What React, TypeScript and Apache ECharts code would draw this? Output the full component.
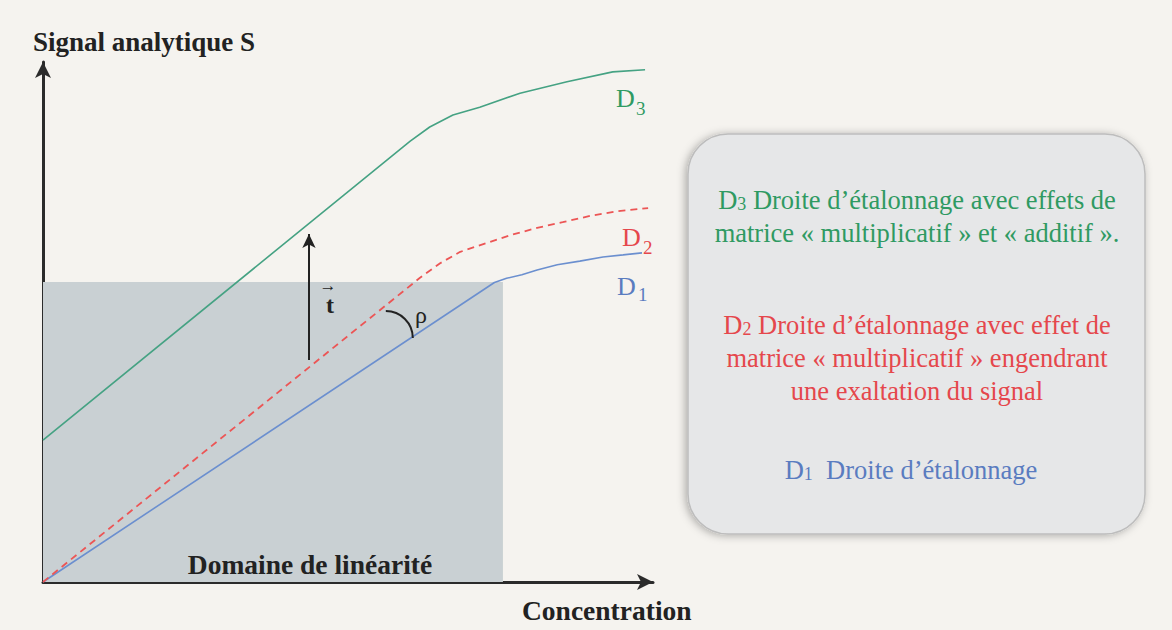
import React, { useEffect, useRef } from "react";
import * as echarts from "echarts";

// Calibration curves (concentration, signal)
const d1Points: number[][] = [
  [0, 0], [7.4, 5.76], [7.6, 5.84], [7.85, 5.91], [8.1, 6.0], [8.43, 6.1],
  [8.8, 6.17], [9.18, 6.25], [9.51, 6.29], [9.82, 6.33],
];
const d2Points: number[][] = [
  [0, 0], [6.18, 5.85], [6.51, 6.13], [6.84, 6.35], [7.33, 6.54], [7.66, 6.67],
  [8.1, 6.81], [8.52, 6.92], [8.97, 7.04], [9.41, 7.13], [9.92, 7.19],
];
const d3Points: number[][] = [
  [0, 2.73], [6.02, 8.48], [6.34, 8.75], [6.72, 8.98], [7.16, 9.13], [7.82, 9.4],
  [8.59, 9.62], [9.34, 9.81], [9.87, 9.85],
];
// Linear range (upper corner of the shaded domain)
const linearDomain = [7.54, 5.77];
// Translation vector t : x, from, to
const tVector = [4.36, 4.27, 6.69];
// Angle rho: centre of its arc
const rhoCentre = [5.62, 4.69];
const axisMax = [10, 10];

const FONT = "'Liberation Serif', 'DejaVu Serif', serif";
const GREEN = "#2f9a62";
const RED = "#e5474c";
const BLUE = "#5a7cc0";

export default function App() {
  const ref = useRef<HTMLDivElement>(null);
  useEffect(() => {
    if (!ref.current) return;
    const chart = echarts.init(ref.current, undefined, { renderer: "svg" });
    const axisCommon = {
      type: "value" as const,
      min: 0,
      axisLabel: { show: false },
      axisTick: { show: false },
      splitLine: { show: false },
      axisLine: {
        show: true,
        symbol: ["none", "arrow"],
        symbolSize: [12, 16],
        lineStyle: { color: "#2b2b2b", width: 3 },
      },
    };
    const lineCommon = {
      type: "line" as const,
      smooth: false,
      showSymbol: false,
      z: 3,
    };
    chart.setOption({
      animation: false,
      backgroundColor: "#f5f3ef",
      grid: { left: 43, top: 62, width: 610, height: 520 },
      xAxis: { ...axisCommon, max: axisMax[0] },
      yAxis: { ...axisCommon, max: axisMax[1] },
      series: [
        {
          type: "line",
          data: [],
          z: 1,
          silent: true,
          markArea: {
            silent: true,
            itemStyle: { color: "#c9d0d3" },
            data: [[{ coord: [0, 0] }, { coord: linearDomain }]],
          },
        },
        {
          ...lineCommon,
          name: "D1",
          data: d1Points,
          lineStyle: { color: "#6b8fcf", width: 1.6 },
        },
        {
          ...lineCommon,
          name: "D2",
          data: d2Points,
          lineStyle: { color: "#ec5555", width: 1.8, type: [7, 5] },
          markLine: {
            silent: true,
            symbol: ["none", "arrow"],
            symbolSize: [10, 14],
            label: { show: false },
            lineStyle: { color: "#222", width: 2, type: "solid" },
            data: [[{ coord: [tVector[0], tVector[1]] }, { coord: [tVector[0], tVector[2]] }]],
          },
        },
        {
          ...lineCommon,
          name: "D3",
          data: d3Points,
          lineStyle: { color: "#45a283", width: 1.6 },
        },
      ],
    });

    const rc = chart.convertToPixel({ gridIndex: 0 }, rhoCentre) as number[];
    const txt = (text: string, x: number, y: number, size: number, color: string, extra: any = {}) => ({
      type: "text",
      x,
      y,
      z: 10,
      style: {
        text,
        fill: color,
        font: `${extra.weight || "normal"} ${size}px ${FONT}`,
        align: extra.align || "left",
        verticalAlign: "middle",
      },
    });
    const rich = (color: string) => ({
      d: { fontSize: 26.5, fontFamily: FONT, color, lineHeight: 30, verticalAlign: "bottom" },
      s: { fontSize: 18, fontFamily: FONT, color, lineHeight: 4, verticalAlign: "bottom" },
      n: { fontSize: 26.5, fontFamily: FONT, color, lineHeight: 30, verticalAlign: "bottom" },
    });
    const legendLine = (text: string, x: number, y: number, color: string) => ({
      type: "text",
      x,
      y,
      z: 12,
      style: {
        text,
        fill: color,
        font: `normal 26.5px ${FONT}`,
        align: "center",
        verticalAlign: "middle",
        rich: rich(color),
      },
    });

    chart.setOption({
      graphic: [
        txt("Signal analytique S", 33, 42, 27, "#222", { weight: "bold" }),
        txt("Concentration", 522, 610, 27.5, "#222", { weight: "bold" }),
        txt("Domaine de linéarité", 310, 564, 27.5, "#222", { weight: "bold", align: "center" }),
        // curve labels
        txt("D", 616, 98, 26, GREEN),
        txt("3", 636, 108, 19, GREEN),
        txt("D", 622, 237, 26, RED),
        txt("2", 643, 247, 19, RED),
        txt("D", 617, 286, 26, BLUE),
        txt("1", 638, 294, 19, BLUE),
        // vector t and angle rho
        txt("→", 328, 285, 17, "#222", { align: "center", weight: "bold" }),
        txt("t", 330, 305, 24, "#222", { align: "center", weight: "bold" }),
        txt("ρ", 421, 315, 24, "#222", { align: "center" }),
        {
          type: "arc",
          z: 10,
          shape: { cx: rc[0], cy: rc[1], r: 27, startAngle: -Math.PI / 2, endAngle: 0, clockwise: true },
          style: { stroke: "#222", lineWidth: 2, fill: "none" },
        },
        // legend box
        {
          type: "rect",
          z: 11,
          shape: { x: 688, y: 134, width: 457, height: 400, r: 40 },
          style: {
            fill: "#e6e7e8",
            stroke: "#bdbdbd",
            lineWidth: 1.5,
            shadowBlur: 8,
            shadowColor: "rgba(0,0,0,0.3)",
            shadowOffsetX: -2,
            shadowOffsetY: 1,
          },
        },
        legendLine("{d|D}{s|3}{n| Droite d’étalonnage avec effets de}", 917, 198, GREEN),
        legendLine("matrice « multiplicatif » et « additif ».", 917, 233, GREEN),
        legendLine("{d|D}{s|2}{n| Droite d’étalonnage avec effet de}", 917, 323, RED),
        legendLine("matrice « multiplicatif » engendrant", 917, 358, RED),
        legendLine("une exaltation du signal", 917, 391, RED),
        legendLine("{d|D}{s|1}{n|  Droite d’étalonnage}", 911, 468, BLUE),
      ],
    });

    return () => chart.dispose();
  }, []);
  return (
    <div
      ref={ref}
      style={{ position: "fixed", left: 0, top: 0, width: 1172, height: 630 }}
    />
  );
}
